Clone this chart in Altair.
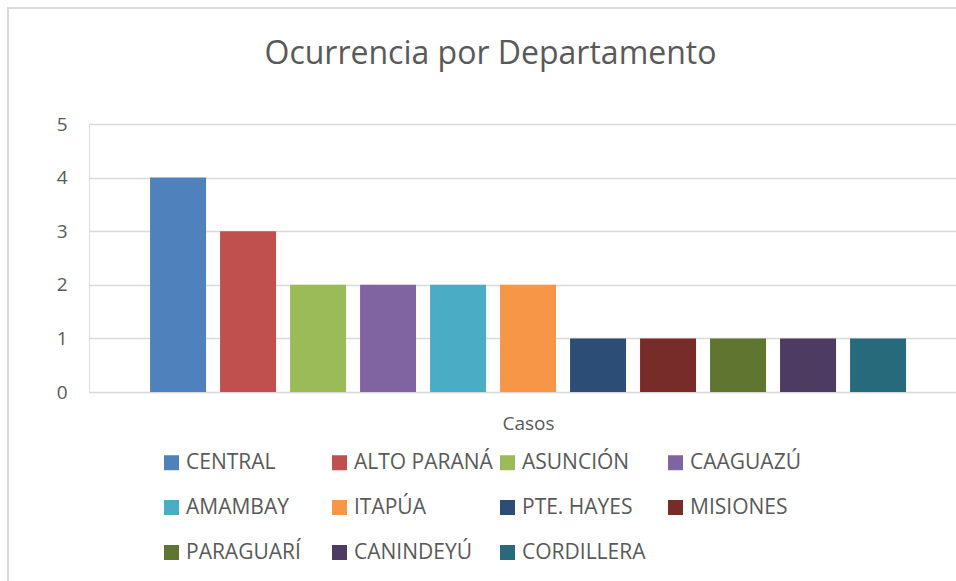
import altair as alt
import pandas as pd

departamentos = ["CENTRAL", "ALTO PARANÁ", "ASUNCIÓN", "CAAGUAZÚ", "AMAMBAY", "ITAPÚA",
                 "PTE. HAYES", "MISIONES", "PARAGUARÍ", "CANINDEYÚ", "CORDILLERA"]
casos = [4, 3, 2, 2, 2, 2, 1, 1, 1, 1, 1]
colores = ["#4F81BD", "#C0504D", "#9BBB59", "#8064A2", "#4BACC6", "#F79646",
           "#2C4D75", "#772C2A", "#5F7530", "#4D3B62", "#276A7C"]

df = pd.DataFrame({"Departamento": departamentos, "Casos": casos})

# legend is filled column by column: reorder so it reads row by row (4 columns)
NCOL = 4
NROW = -(-len(departamentos) // NCOL)
orden_leyenda = []
for c in range(NCOL):
    for r in range(NROW):
        i = r * NCOL + c
        if i < len(departamentos):
            orden_leyenda.append(departamentos[i])
color_de = dict(zip(departamentos, colores))
colores_leyenda = [color_de[d] for d in orden_leyenda]

FONT = "Open Sans"
GREY = "#595959"

frame = alt.Chart(df).mark_rect(filled=False, stroke="#d9d9d9", strokeWidth=1.5, clip=False).encode(
    x=alt.value(-81), x2=alt.value(900), y=alt.value(-116), y2=alt.value(480)
)

bars = alt.Chart(df).mark_bar().encode(
    x=alt.X("Departamento:N", sort=departamentos,
            scale=alt.Scale(paddingInner=0.2, paddingOuter=0.793, align=0.55),
            axis=alt.Axis(labels=False, ticks=False, domain=False, title="Casos",
                          titleFontSize=19, titleFont=FONT, titleColor=GREY,
                          titleFontWeight="normal", titlePadding=22, titleX=439)),
    y=alt.Y("Casos:Q", scale=alt.Scale(domain=[0, 5]),
            axis=alt.Axis(values=[0, 1, 2, 3, 4, 5], ticks=False, domain=False, title=None,
                          labelFontSize=19, labelFont=FONT, labelColor=GREY, labelPadding=22,
                          gridColor="#d9d9d9", gridWidth=1.5)),
    color=alt.Color("Departamento:N",
                    scale=alt.Scale(domain=orden_leyenda, range=colores_leyenda),
                    legend=alt.Legend(title=None, orient="none", legendX=72, legendY=328,
                                      columns=NCOL, gridAlign="all", columnPadding=4, rowPadding=23,
                                      symbolType="square", symbolSize=225, symbolStrokeWidth=0,
                                      labelFontSize=21, labelFont=FONT, labelColor=GREY,
                                      labelOffset=4, labelLimit=300)),
)

chart = alt.layer(frame, bars).properties(
    width=867, height=268,
    title=alt.Title("Ocurrencia por Departamento", fontSize=32, font=FONT, color=GREY,
                    fontWeight="normal", anchor="middle", dx=-32, offset=-89,
                    baseline="alphabetic"),
    padding={"left": 89, "top": 124, "right": 0, "bottom": 189},
    autosize=alt.AutoSizeParams(type="none"),
).configure_view(stroke=None).configure(background="white")

chart.save("out.html", embed_options={"renderer": "svg", "actions": False})
